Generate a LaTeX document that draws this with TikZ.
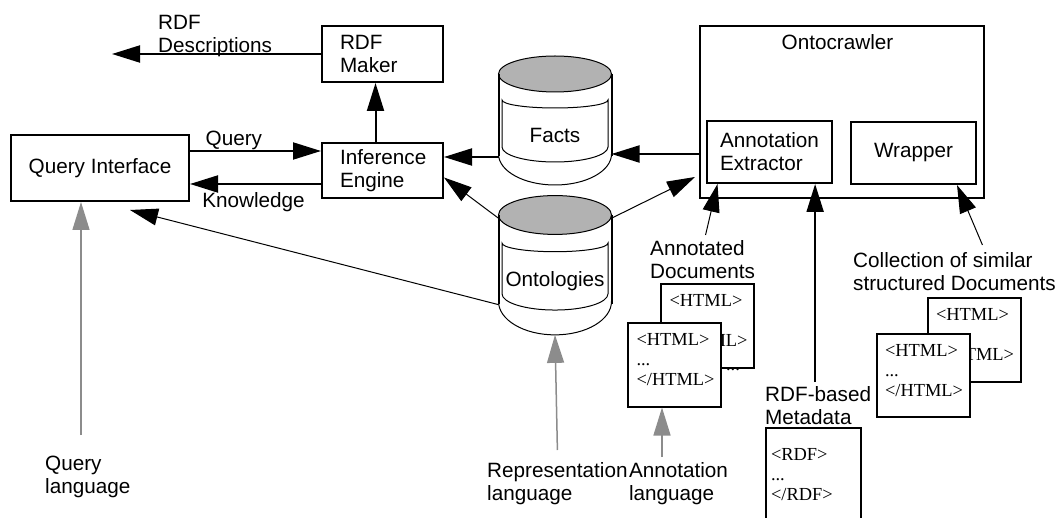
\documentclass[tikz,border=0pt]{standalone}
\usepackage{fontspec}
\setmainfont{Liberation Sans}
\newfontfamily\htmlfont{Liberation Serif}
\usetikzlibrary{arrows.meta, positioning}
\definecolor{dbgray}{gray}{0.7}
\definecolor{langgray}{gray}{0.55}

% cylinder for a knowledge store
\tikzset{
  pics/database/.style={code={
    \fill[dbgray] (0,0) ellipse [x radius=56.5, y radius=18];
    \draw[line width=1pt] (0,0) ellipse [x radius=56.5, y radius=18];
    \draw[line width=2pt] (-56.5,0) -- (-56.5,-82) (56.5,0) -- (56.5,-82);
    \draw[line width=1pt] (-53,-26) arc[start angle=180, end angle=360, x radius=53, y radius=8]
      -- (53,-73) arc[start angle=0, end angle=-180, x radius=53, y radius=15] -- cycle;
    \draw[line width=1pt] (-56.5,-80) arc[start angle=180, end angle=360, x radius=56.5, y radius=31];
    \node (-label) at (0,-61) {#1};
    \coordinate (-nw) at (-56.5,-3);
    \coordinate (-ne) at (56.5,-3);
    \coordinate (-west) at (-56.5,-83);
    \coordinate (-east) at (56.5,-80);
    \coordinate (-south) at (0,-111);
  }}
}

\begin{document}
\begin{tikzpicture}[
    x=1pt, y=1pt,
    font=\fontsize{20.7}{23}\selectfont,
    box/.style={draw, line width=2pt, align=center},
    leftbox/.style={box, align=left, text width=85pt, inner xsep=18pt, minimum height=56pt},
    doc/.style={draw, line width=2pt, fill=white, align=left, text width=76pt, inner xsep=8.5pt, inner ysep=10pt, font=\htmlfont\fontsize{18.4}{20}\selectfont},
    lbl/.style={align=left, inner sep=0pt},
    arrow/.style={-{Triangle[length=28pt, width=17pt]}, line width=2pt},
    thinarrow/.style={arrow, line width=1pt},
    grayarrow/.style={arrow, draw=langgray, line width=1.5pt}
]
\useasboundingbox (0,0) rectangle (1059,-518);

% Boxes
\node[box, minimum width=178pt, minimum height=66pt] (qi) at (100,-168) {Query Interface};
\node[leftbox] (rdfmaker) at (382.5,-54) {RDF\\Maker};
\node[leftbox, minimum height=55pt] (ie) at (382.5,-170.5) {Inference\\Engine};
\node[box, minimum width=284pt, minimum height=172pt] (crawler) at (842,-112) {};
\node[anchor=north, inner sep=0pt] (crawlertitle) at ([xshift=-4.5pt, yshift=-9pt]crawler.north) {Ontocrawler};
\node[box, align=left, minimum width=125pt, minimum height=62pt] (ae) at (769.5,-152) {Annotation\\Extractor};
\node[box, minimum width=125pt, minimum height=62pt] (wrapper) at (913.5,-153) {Wrapper};

% Stores
\pic (facts) at (555,-74) {database=Facts};
\pic[yscale=1.08] (onto) at (555,-215) {database=Ontologies};

% Documents
\node[doc] (adoc2) at (707.5,-326) {<HTML>\\...\\</HTML>\rule[-11pt]{0pt}{11pt}};
\node[doc] (adoc1) at (674.5,-365) {<HTML>\\...\\</HTML>\rule[-11pt]{0pt}{11pt}};
\node[font=\htmlfont\fontsize{18.4}{20}\selectfont, inner sep=0pt] (adots) at (733,-370) {...};
\node[doc] (cdoc2) at (974,-340) {<HTML>\\...\\</HTML>\rule[-11pt]{0pt}{11pt}};
\node[doc] (cdoc1) at (923,-375.5) {<HTML>\\...\\</HTML>\rule[-11pt]{0pt}{11pt}};
\node[doc, anchor=north west, text width=85pt, inner xsep=5pt, inner ysep=20pt] (rdfdoc) at (765,-427) {<RDF>\\...\\</RDF>\rule[-70pt]{0pt}{70pt}};

% Labels
\coordinate (rdfout) at (112,-54);
\node[lbl, anchor=south west] (rdfdesc) at ([xshift=46pt, yshift=-3pt]rdfout) {RDF\\Descriptions};
\node[lbl, anchor=north west] (qlanglbl) at (45,-456) {Query\\language};
\node[lbl, anchor=north west] (rlanglbl) at (487,-462) {Representation\\language};
\node[lbl, right=1pt of rlanglbl] (alanglbl) {Annotation\\language};
\node[lbl, anchor=north west] (adlbl) at (650,-240) {Annotated\\Documents};
\node[lbl, anchor=north west] (rdflbl) at (765,-386) {RDF-based\\Metadata};
\node[lbl, anchor=north west] (collbl) at (853,-252) {Collection of similar\\structured Documents};

% Arrows between components
\draw[arrow] (rdfmaker.west) -- (rdfout);
\draw[arrow] ([xshift=-7pt]ie.north) -- ([xshift=-7pt]rdfmaker.south);
\coordinate (q1) at ([yshift=17pt]qi.east);
\coordinate (k1) at ([yshift=-16pt]qi.east);
\draw[arrow] (q1) -- node[pos=.335, above, inner sep=0pt] (querylbl) {Query} (q1 -| ie.west);
\draw[arrow] (k1 -| ie.west) -- node[pos=.515, below=8pt, inner sep=0pt] (knowlbl) {Knowledge} (k1);
\draw[arrow] (facts-west) -- (facts-west -| ie.east);
\draw[arrow] (facts-east -| crawler.west) -- (facts-east);
\draw[thinarrow] (onto-nw) -- ([yshift=-7pt]ie.east);
\draw[thinarrow] (onto-ne) -- ([xshift=-4pt, yshift=-65pt]crawler.west);
\draw[thinarrow] (onto-west) -- ([xshift=30pt, yshift=-8pt]qi.south);

% Inputs of the crawler
\draw[thinarrow] ([xshift=3pt, yshift=5pt]adlbl.north) -- ([xshift=-52pt]ae.south);
\coordinate (rdftop) at ([xshift=-3pt, yshift=4pt]rdflbl.north);
\draw[arrow] (rdftop) -- (rdftop |- ae.south);
\draw[thinarrow] ([xshift=28pt, yshift=7pt]collbl.north) -- ([xshift=43.5pt]wrapper.south);

% Languages
\coordinate (qlangtop) at (81,-435);
\draw[grayarrow] (qlangtop) -- (qlangtop |- qi.south);
\draw[grayarrow] ([yshift=12pt]rlanglbl.north) -- (onto-south);
\coordinate (alangtop) at (662,-457);
\draw[grayarrow] (alangtop) -- (alangtop |- adoc1.south);

\end{tikzpicture}
\end{document}
